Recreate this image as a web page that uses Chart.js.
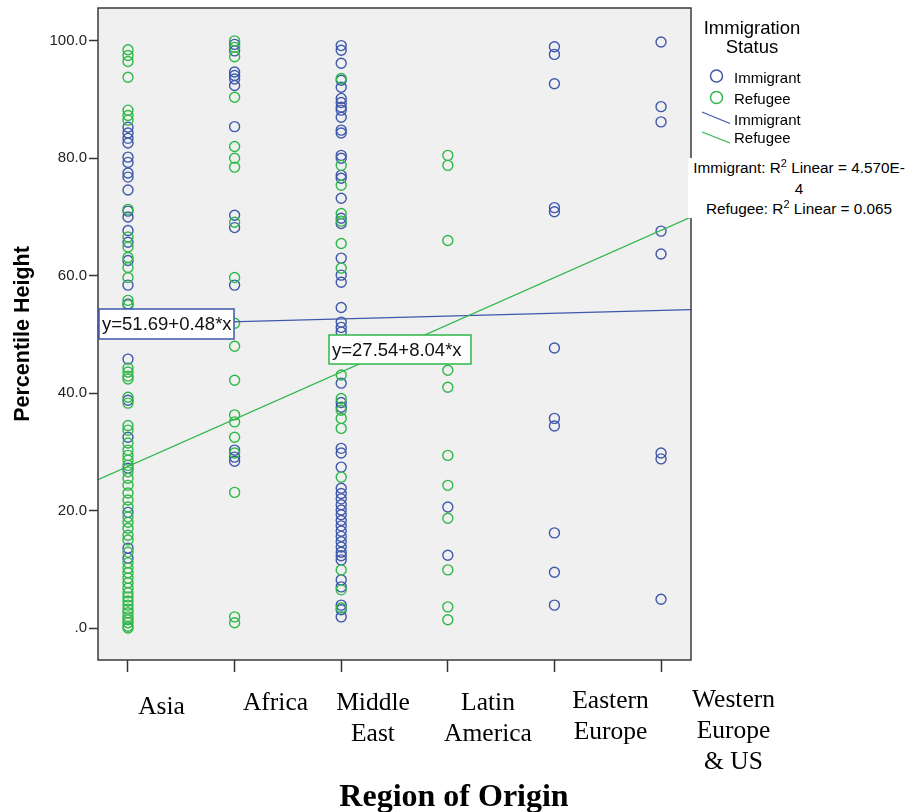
<!DOCTYPE html>
<html><head><meta charset="utf-8">
<script src="https://cdn.jsdelivr.net/npm/chart.js@4.4.0/dist/chart.umd.min.js"></script>
<style>
html,body{margin:0;padding:0;background:#fff;}
#wrap{position:relative;width:910px;height:812px;overflow:hidden;background:#fff;}
canvas{position:absolute;left:0;top:0;}
.cat{position:absolute;font-family:"Liberation Serif","Times New Roman",serif;font-size:25.5px;line-height:31px;text-align:center;width:180px;color:#000;white-space:nowrap;}
.lg{position:absolute;font-family:"Liberation Sans",Arial,sans-serif;color:#000;white-space:nowrap;}
.sup{font-size:11px;position:relative;top:-6px;}
</style></head>
<body><div id="wrap"><canvas id="c" width="910" height="812"></canvas>
<div id="labels"></div>
<div class="lg" style="left:691px;top:19px;width:122px;text-align:center;font-size:18.5px;line-height:18.5px;">Immigration<br>Status</div>
<div class="lg" style="left:734px;top:70px;font-size:15px;line-height:15px;">Immigrant</div>
<div class="lg" style="left:734px;top:91px;font-size:15px;line-height:15px;">Refugee</div>
<div class="lg" style="left:734px;top:112px;font-size:15px;line-height:15px;">Immigrant</div>
<div class="lg" style="left:734px;top:130px;font-size:15px;line-height:15px;">Refugee</div>
<div class="lg" style="left:688px;top:158px;width:222px;height:60px;background:#fff;text-align:center;font-size:15.3px;line-height:20px;">Immigrant: R<span class="sup">2</span> Linear = 4.570E-<br>4<br>Refugee: R<span class="sup">2</span> Linear = 0.065</div>
</div>
<script>
// ---- data ----
const categories = ["Asia", "Africa", "Middle East", "Latin America", "Eastern Europe", "Western Europe & US"];
const categoryLines = [["Asia"], ["Africa"], ["Middle", "East"], ["Latin", "America"], ["Eastern", "Europe"], ["Western", "Europe", "& US"]];
const seriesNames = ["Immigrant", "Refugee"];
const yTicks = [0, 20, 40, 60, 80, 100];
const xTicks = [0, 1, 2, 3, 4, 5];

// Immigrant (blue) percentile heights per region
const immAsia = [85.3, 84.3, 83.4, 82.6, 80.2, 79.3, 77.5, 76.8, 74.6, 71.0, 70.0, 67.7, 65.7, 62.6, 58.4, 55.2, 45.8, 38.8, 32.5, 27.2, 19.7, 13.6, 11.9];
const immAfrica = [99.4, 98.3, 94.7, 94.1, 93.5, 92.4, 85.4, 70.3, 68.2, 58.4, 30.3, 29.1, 28.4];
const immMiddleEast = [99.2, 98.4, 96.2, 93.3, 92.1, 90.2, 89.5, 88.7, 88.2, 87.0, 84.8, 84.3, 80.5, 80.0, 77.1, 76.6, 73.2, 69.8, 68.9, 63.0, 60.1, 58.9, 54.6, 52.1, 51.2, 50.4, 41.7, 38.4, 37.6, 30.6, 29.8, 27.4, 23.8, 22.9, 22.0, 21.0, 20.1, 19.3, 18.3, 17.4, 16.5, 15.6, 14.7, 13.8, 12.9, 12.3, 11.6, 8.2, 7.0, 3.9, 3.1, 1.9];
const immLatinAmerica = [20.6, 12.4];
const immEasternEurope = [99.0, 97.7, 92.7, 71.6, 70.9, 47.7, 35.7, 34.4, 16.2, 9.5, 3.9];
const immWesternEurope = [99.8, 88.8, 86.2, 67.6, 63.7, 29.8, 28.8, 4.9];

// Refugee (green) percentile heights per region
const refAsia = [98.5, 97.5, 96.5, 93.8, 88.2, 87.3, 86.5, 71.3, 66.6, 64.9, 63.1, 61.4, 59.7, 55.8, 55.0, 44.3, 43.6, 42.9, 42.4, 39.3, 38.3, 34.5, 33.7, 31.5, 30.3, 29.4, 28.6, 27.7, 26.6, 25.5, 24.3, 23.0, 21.8, 20.6, 18.9, 18.0, 17.0, 15.8, 15.0, 12.9, 11.1, 10.2, 9.4, 8.5, 7.7, 6.8, 6.0, 5.3, 4.6, 3.9, 3.2, 2.6, 1.9, 1.4, 0.9, 0.3, 0.0];
const refAfrica = [100.0, 98.9, 97.3, 90.4, 82.0, 80.0, 78.5, 69.1, 59.7, 51.9, 48.0, 42.2, 36.3, 35.1, 32.5, 29.8, 23.1, 1.9, 0.9];
const refMiddleEast = [93.6, 78.8, 75.4, 70.6, 69.3, 65.5, 61.3, 43.1, 39.1, 37.1, 35.7, 34.0, 25.7, 9.9, 6.5, 3.4];
const refLatinAmerica = [80.5, 78.8, 66.0, 43.9, 41.0, 29.4, 24.3, 18.7, 9.9, 3.6, 1.4];
const refEasternEurope = [];
const refWesternEurope = [];

// Linear fits (intercept, slope) for Immigrant, Refugee
const fitIntercept = [51.69, 27.54];
const fitSlope = [0.48, 8.04];

// ---- build ----
const COL_IMM = '#3E58AC', COL_REF = '#2EB848';
const X_MIN = -0.2814, X_MAX = 5.281, Y_MIN = -5.45, Y_MAX = 105.6;
const immByCat = [immAsia, immAfrica, immMiddleEast, immLatinAmerica, immEasternEurope, immWesternEurope];
const refByCat = [refAsia, refAfrica, refMiddleEast, refLatinAmerica, refEasternEurope, refWesternEurope];
const toPts = arr => arr.flatMap((vals, i) => vals.map(v => ({x: i, y: v})));
const fitPts = k => [X_MIN, X_MAX].map(x => ({x: x, y: fitIntercept[k] + fitSlope[k] * x}));
const eqText = k => 'y=' + fitIntercept[k].toFixed(2) + '+' + fitSlope[k].toFixed(2) + '*x';

// category labels under axis
const catPos = [[161.5, 690], [275.5, 686], [373, 686], [488, 686], [610.5, 684], [733.5, 683]];
const lab = document.getElementById('labels');
categoryLines.forEach((lines, i) => {
  const d = document.createElement('div');
  d.className = 'cat';
  d.style.left = (catPos[i][0] - 90) + 'px';
  d.style.top = catPos[i][1] + 'px';
  d.innerHTML = lines.join('<br>');
  lab.appendChild(d);
});
const t = document.createElement('div');
t.className = 'cat';
t.style.cssText = 'left:304px;top:776px;width:300px;font-weight:bold;font-size:32px;line-height:38px;';
t.textContent = 'Region of Origin';
lab.appendChild(t);

const framePlugin = {
  id: 'frame',
  beforeDraw(chart) {
    const {ctx, chartArea: a} = chart;
    ctx.save();
    ctx.fillStyle = '#F0F0F0';
    ctx.fillRect(a.left, a.top, a.right - a.left, a.bottom - a.top);
    ctx.restore();
  },
  afterDraw(chart) {
    const {ctx, chartArea: a} = chart;
    ctx.save();
    ctx.strokeStyle = '#3a3a3a';
    ctx.lineWidth = 1.5;
    ctx.strokeRect(a.left, a.top, a.right - a.left, a.bottom - a.top);
    // equation boxes
    const boxes = [
      {k: 0, x: a.left + 1, y: 309, w: 135, h: 30, c: COL_IMM},
      {k: 1, x: 329, y: 335, w: 142, h: 29, c: COL_REF}
    ];
    boxes.forEach(b => {
      ctx.fillStyle = '#fff';
      ctx.fillRect(b.x, b.y, b.w, b.h);
      ctx.strokeStyle = b.c;
      ctx.lineWidth = 1.5;
      ctx.strokeRect(b.x, b.y, b.w, b.h);
      ctx.fillStyle = '#111';
      ctx.font = '18.5px "Liberation Sans", Arial, sans-serif';
      ctx.textBaseline = 'middle';
      ctx.textAlign = 'left';
      ctx.fillText(eqText(b.k), b.x + 3, b.y + b.h / 2 + 1);
    });
    // legend symbols
    ctx.lineWidth = 1.5;
    ctx.strokeStyle = COL_IMM;
    ctx.beginPath(); ctx.arc(716.5, 76, 6, 0, Math.PI * 2); ctx.stroke();
    ctx.strokeStyle = COL_REF;
    ctx.beginPath(); ctx.arc(716.5, 97.5, 6, 0, Math.PI * 2); ctx.stroke();
    ctx.lineWidth = 1.2;
    ctx.strokeStyle = COL_IMM;
    ctx.beginPath(); ctx.moveTo(702, 112); ctx.lineTo(730, 123.5); ctx.stroke();
    ctx.strokeStyle = COL_REF;
    ctx.beginPath(); ctx.moveTo(702, 132); ctx.lineTo(730, 143); ctx.stroke();
    ctx.restore();
  }
};

new Chart(document.getElementById('c'), {
  type: 'scatter',
  data: {
    datasets: [
      {label: seriesNames[0], data: toPts(immByCat), borderColor: COL_IMM, backgroundColor: 'rgba(0,0,0,0)', pointRadius: 5, pointBorderWidth: 1.4, order: 3},
      {label: seriesNames[1], data: toPts(refByCat), borderColor: COL_REF, backgroundColor: 'rgba(0,0,0,0)', pointRadius: 5, pointBorderWidth: 1.4, order: 2},
      {type: 'line', label: seriesNames[0] + ' fit', data: fitPts(0), borderColor: COL_IMM, borderWidth: 1.2, pointRadius: 0, fill: false, order: 1},
      {type: 'line', label: seriesNames[1] + ' fit', data: fitPts(1), borderColor: COL_REF, borderWidth: 1.2, pointRadius: 0, fill: false, order: 0}
    ]
  },
  options: {
    responsive: false,
    animation: false,
    events: [],
    layout: {padding: {top: 8, right: 219, left: 0, bottom: 0}},
    plugins: {legend: {display: false}, tooltip: {enabled: false}, title: {display: false}},
    scales: {
      x: {
        type: 'linear', min: X_MIN, max: X_MAX,
        afterBuildTicks: s => { s.ticks = xTicks.map(v => ({value: v})); },
        afterFit: s => { s.height = 152; s.paddingLeft = 0; s.paddingRight = 0; },
        grid: {drawOnChartArea: false, drawTicks: true, tickLength: 12, tickColor: '#333', tickWidth: 1.5},
        border: {display: false},
        ticks: {callback: () => '', padding: 0}
      },
      y: {
        min: Y_MIN, max: Y_MAX,
        afterBuildTicks: s => { s.ticks = yTicks.map(v => ({value: v})); },
        afterFit: s => { s.width = 98; s.paddingTop = 0; s.paddingBottom = 0; },
        grid: {drawOnChartArea: false, drawTicks: true, tickLength: 9, tickColor: '#333', tickWidth: 1.5},
        border: {display: false},
        ticks: {
          padding: 2, color: '#222',
          font: {family: '"Liberation Sans", Arial, sans-serif', size: 15},
          callback: v => v === 0 ? '.0' : Number(v).toFixed(1)
        },
        title: {display: true, text: 'Percentile Height', color: '#000', padding: {top: 10, bottom: 0},
          font: {family: '"Liberation Sans", Arial, sans-serif', size: 21.5, weight: 'bold'}}
      }
    }
  },
  plugins: [framePlugin]
});
</script>
</body></html>
